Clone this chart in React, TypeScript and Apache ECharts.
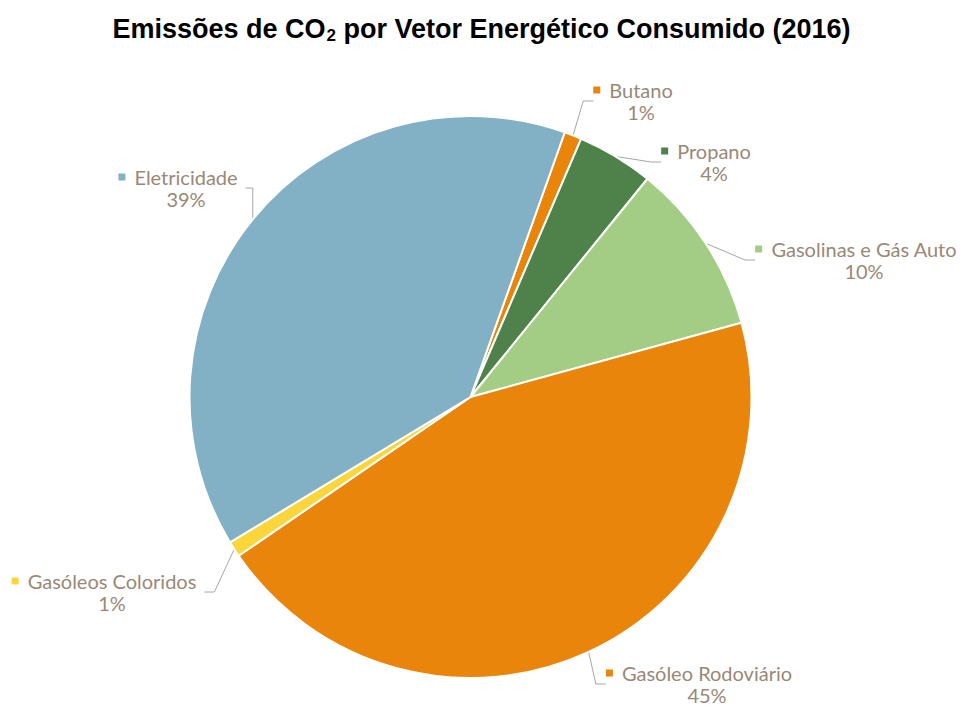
import React, { useEffect, useRef } from "react";
import * as echarts from "echarts";

const categories = ["Butano", "Propano", "Gasolinas e Gás Auto", "Gasóleo Rodoviário", "Gasóleos Coloridos", "Eletricidade"];
const values = [1.0, 4.4, 9.9, 44.7, 0.9, 39.1];
const colors = ["#E8850A", "#4F824B", "#A3CD85", "#E8850A", "#FBD63A", "#82B0C5"];
// label anchor centres (text block), styling only
const labelPos: [number, number][] = [
  [641, 101],
  [714, 162],
  [864, 260],
  [707, 684],
  [112, 592],
  [186, 188],
];

export default function App() {
  const ref = useRef<HTMLDivElement>(null);
  useEffect(() => {
    document.body.style.margin = "0";
    const chart = echarts.init(ref.current!, null, { renderer: "svg" });
    const total = values.reduce((a, b) => a + b, 0);
    const rich: any = {
      n: { fontSize: 20, color: "#9A8877", fontFamily: "Lato", lineHeight: 22 },
      p: { fontSize: 20, color: "#9A8877", fontFamily: "Lato", lineHeight: 22 },
      g: { width: 9, height: 7 },
      sp: { width: 16, height: 7 },
    };
    colors.forEach((c, i) => {
      rich["sq" + i] = { width: 7, height: 7, backgroundColor: c };
    });
    chart.setOption({
      animation: false,
      title: {
        text: "{t|Emissões de CO}{s|2}{t| por Vetor Energético Consumido (2016)}",
        left: "center",
        top: 8,
        textStyle: {
          rich: {
            t: { fontSize: 27, fontWeight: "bold", fontFamily: "Liberation Sans, Arial", color: "#000", lineHeight: 32 },
            s: { fontSize: 17, fontWeight: "bold", fontFamily: "Liberation Sans, Arial", color: "#000", lineHeight: 32, padding: [12, 0, 0, 1] },
          },
        },
      },
      series: [
        {
          type: "pie",
          center: [470.5, 397],
          radius: 281,
          startAngle: 70.4,
          clockwise: true,
          avoidLabelOverlap: false,
          itemStyle: { borderColor: "#fff", borderWidth: 2 },
          label: {
            show: true,
            position: "outside",
            align: "center",
            formatter: (p: any) =>
              `{sq${p.dataIndex}|}{g|}{n|${p.name}}{sp|}\n{p|${Math.round((p.value / total) * 100)}%}`,
            rich,
          },
          labelLine: { show: true, lineStyle: { color: "#A6A6A6", width: 1 }, length: 10, length2: 10 },
          labelLayout: (params: any) => {
            const [x, y] = labelPos[params.dataIndex];
            return { x, y, align: "center", verticalAlign: "middle" };
          },
          data: categories.map((name, i) => ({ name, value: values[i], itemStyle: { color: colors[i] } })),
        },
      ],
    });
    return () => chart.dispose();
  }, []);
  return <div ref={ref} style={{ width: 963, height: 709 }} />;
}
